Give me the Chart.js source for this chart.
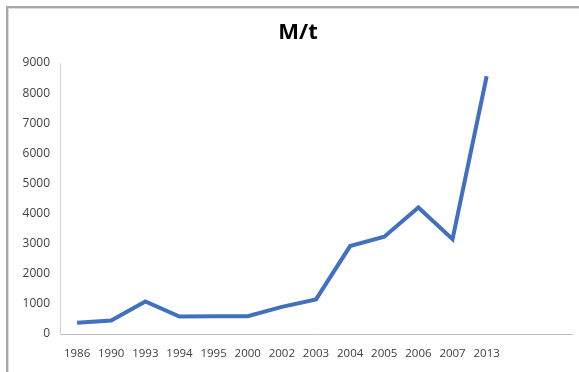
<!DOCTYPE html>
<html>
<head>
<meta charset="utf-8">
<script src="https://cdn.jsdelivr.net/npm/chart.js@4"></script>
<style>
  html, body { margin: 0; padding: 0; background: #fff; overflow: hidden; }
  body { width: 579px; height: 372px; position: relative; }
  #frame {
    position: absolute; left: 6px; top: 6px; width: 600px; height: 400px;
    border-left: 2px solid #a8a8a8; border-top: 2px solid #a8a8a8;
    box-shadow: inset 1px 1px 0 #dcdcdc;
  }
  #wrap { position: absolute; left: 8px; top: 8px; width: 580px; height: 364px; }
</style>
</head>
<body>
<div id="frame"></div>
<div id="wrap"><canvas id="c" width="580" height="364"></canvas></div>
<script>
// Years on the category axis (two blank slots keep room on the right)
const years = ['1986', '1990', '1993', '1994', '1995', '2000', '2002', '2003',
               '2004', '2005', '2006', '2007', '2013', '', ''];
// Amount per year, M/t
const amounts = [370, 450, 1080, 580, 590, 590, 900, 1150, 2920, 3230, 4200, 3150, 8560];
// Value-axis ticks
const yTicks = [0, 1000, 2000, 3000, 4000, 5000, 6000, 7000, 8000, 9000];
const chartTitle = 'M/t';

const fontFamily = '"Open Sans", "Liberation Sans", sans-serif';

// Chart heading, centred over the whole frame rather than the padded plot box
const headingPlugin = {
  id: 'heading',
  afterDraw(chart) {
    const ctx = chart.ctx;
    ctx.save();
    ctx.font = 'bold 22px ' + fontFamily;
    ctx.fillStyle = '#000';
    ctx.textAlign = 'center';
    ctx.textBaseline = 'middle';
    ctx.fillText(chartTitle, 290, 25);
    ctx.restore();
  }
};

new Chart(document.getElementById('c'), {
  type: 'line',
  data: {
    labels: years,
    datasets: [{
      data: amounts,
      borderColor: '#4170c0',
      borderWidth: 4,
      pointRadius: 0,
      tension: 0,
      fill: false
    }]
  },
  plugins: [headingPlugin],
  options: {
    responsive: false,
    animation: false,
    devicePixelRatio: 1,
    layout: { padding: { left: 0, right: 16, top: 55, bottom: 0 } },
    plugins: {
      legend: { display: false },
      tooltip: { enabled: false },
      title: { display: false }
    },
    scales: {
      x: {
        type: 'category',
        offset: true,
        grid: { display: false, drawTicks: false },
        border: { display: true, color: '#bdbdbd', width: 1 },
        ticks: {
          color: '#404040',
          font: { family: fontFamily, size: 11.5 },
          padding: 13,
          maxRotation: 0,
          autoSkip: false
        },
        afterFit: s => { s.height = 38; }
      },
      y: {
        min: 0,
        max: 9000,
        afterBuildTicks: s => { s.ticks = yTicks.map(v => ({ value: v })); },
        grid: { display: false, drawTicks: false },
        border: { display: true, color: '#d4d4d4', width: 1 },
        ticks: {
          color: '#404040',
          font: { family: fontFamily, size: 12 },
          padding: 10,
          autoSkip: false,
          callback: v => String(v)
        },
        afterFit: s => { s.width = 52; }
      }
    }
  }
});
</script>
</body>
</html>
